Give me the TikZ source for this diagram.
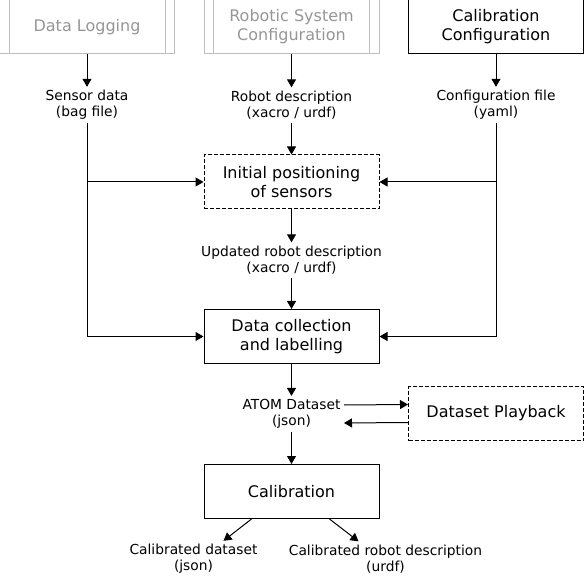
\documentclass[tikz,border=0pt]{standalone}
\usepackage{fontspec}
\setmainfont{DejaVu Sans}
\usetikzlibrary{arrows.meta}
\definecolor{ghostline}{RGB}{190,190,190}
\definecolor{ghosttext}{RGB}{150,150,150}

\begin{document}
\begin{tikzpicture}[x=1pt, y=-1pt, line width=1pt,
	>={Triangle[length=8pt,width=9pt]},
	box/.style={draw, minimum width=175pt, minimum height=54pt, inner sep=0pt, align=center, font=\fontsize{16}{19}\selectfont},
	dashbox/.style={box, dashed, dash pattern=on 4pt off 2pt},
	ghostbox/.style={box, draw=ghostline, text=ghosttext},
	lbl/.style={align=center, inner sep=3pt, font=\fontsize{13.8}{16}\selectfont}]

	\useasboundingbox (0,0) rectangle (584,580);

	% inputs
	\node[ghostbox] (logging) at (87,27) {Data Logging};
	\node[ghostbox] (robsys) at (291.5,27) {Robotic System\\Configuration};
	\node[box] (calconf) at (496,27) {Calibration\\Configuration};
	\foreach \n in {logging,robsys}{
		\draw[ghostline] ([xshift=10pt]\n.north west) -- ([xshift=10pt]\n.south west);
		\draw[ghostline] ([xshift=-10pt]\n.north east) -- ([xshift=-10pt]\n.south east);
	}

	\node[lbl] (sensor) at (87,105) {Sensor data\\(bag file)};
	\node[lbl] (robdesc) at (291.5,105) {Robot description\\(xacro / urdf)};
	\node[lbl] (conffile) at (496,105) {Configuration file\\(yaml)};

	\draw[->] (logging) -- (sensor);
	\draw[->] (robsys) -- (robdesc);
	\draw[->] (calconf) -- (conffile);

	% main chain
	\node[dashbox] (init) at (291.5,182) {Initial positioning\\of sensors};
	\node[lbl] (updated) at (291.5,260) {Updated robot description\\(xacro / urdf)};
	\node[box] (collect) at (291.5,336.5) {Data collection\\and labelling};
	\node[lbl] (atom) at (291.5,414) {ATOM Dataset\\(json)};
	\node[dashbox] (playback) at (496,413.5) {Dataset Playback};
	\node[box] (calib) at (291.5,491.5) {Calibration};
	\node[lbl] (calds) at (193.5,559) {Calibrated dataset\\(json)};
	\node[lbl] (calrob) at (385.5,559) {Calibrated robot description\\(urdf)};

	\draw[->] (robdesc) -- (init);
	\draw[->] (init) -- (updated);
	\draw[->] (updated) -- (collect);
	\draw[->] (collect) -- (atom);
	\draw[->] (atom) -- (calib);

	% side feeds
	\draw (sensor.south) -- (sensor.south |- collect.west);
	\draw[->] (sensor.south |- init.west) -- (init.west);
	\draw[->] (sensor.south |- collect.west) -- (collect.west);
	\draw (conffile.south) -- (conffile.south |- collect.east);
	\draw[->] (conffile.south |- init.east) -- (init.east);
	\draw[->] (conffile.south |- collect.east) -- (collect.east);

	% playback
	\draw[->] ([yshift=9pt]atom.east) -- ([yshift=9pt]playback.west);
	\draw[->] ([yshift=-9pt]playback.west) -- ([yshift=-9pt]atom.east);

	% outputs
	\draw[->] ([xshift=-40pt]calib.south) -- ([xshift=30pt]calds.north);
	\draw[->] ([xshift=38pt]calib.south) -- ([xshift=-27pt]calrob.north);

\end{tikzpicture}
\end{document}
